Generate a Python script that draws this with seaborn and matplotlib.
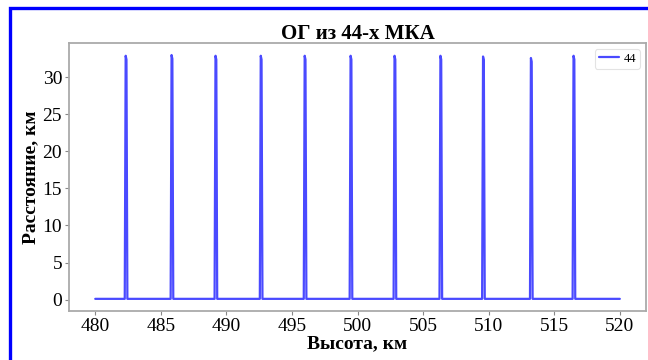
import matplotlib
matplotlib.use("Agg")
import matplotlib.pyplot as plt
from matplotlib.patches import Rectangle
import pandas as pd
import seaborn as sns

# Altitude samples (km) and corresponding distance (km) for the 44-satellite constellation
altitude = [480.0,
            482.25, 482.32, 482.38, 482.45,
            485.75, 485.82, 485.88, 485.95,
            489.10, 489.17, 489.23, 489.30,
            492.55, 492.62, 492.68, 492.75,
            495.90, 495.97, 496.03, 496.10,
            499.40, 499.47, 499.53, 499.60,
            502.75, 502.82, 502.88, 502.95,
            506.25, 506.32, 506.38, 506.45,
            509.50, 509.57, 509.63, 509.70,
            513.15, 513.22, 513.28, 513.35,
            516.40, 516.47, 516.53, 516.60,
            520.0]
distance = [0.1,
            0.1, 32.9, 32.4, 0.1,
            0.1, 33.0, 32.5, 0.1,
            0.1, 32.9, 32.4, 0.1,
            0.1, 32.9, 32.4, 0.1,
            0.1, 32.9, 32.4, 0.1,
            0.1, 32.9, 32.4, 0.1,
            0.1, 32.9, 32.4, 0.1,
            0.1, 32.9, 32.4, 0.1,
            0.1, 32.8, 32.3, 0.1,
            0.1, 32.6, 32.1, 0.1,
            0.1, 32.9, 32.4, 0.1,
            0.1]
series_name = "44"

x_ticks = [480, 485, 490, 495, 500, 505, 510, 515, 520]
y_ticks = [0, 5, 10, 15, 20, 25, 30]

sns.set_style("white")
plt.rcParams["font.family"] = ["Liberation Serif", "DejaVu Serif"]
plt.rcParams["text.color"] = "black"
plt.rcParams["axes.labelcolor"] = "black"
plt.rcParams["xtick.color"] = "black"
plt.rcParams["ytick.color"] = "black"

df = pd.DataFrame({"Высота": altitude, "Расстояние": distance, "label": series_name})

fig = plt.figure(figsize=(6.48, 3.6), dpi=100)
ax = fig.add_axes([0.1065, 0.136, 0.8905, 0.745])

sns.lineplot(data=df, x="Высота", y="Расстояние", hue="label",
             palette=["#2a2aff"], sort=False, estimator=None,
             linewidth=1.6, alpha=0.85, ax=ax)

ax.set_xticks(x_ticks)
ax.set_yticks(y_ticks)
ax.tick_params(axis="both", labelsize=14, length=3, width=0.8, color="#888888",
               labelcolor="black", pad=2, direction="out", bottom=True, left=True)
for s in ax.spines.values():
    s.set_color("#aaaaaa")
    s.set_linewidth(1.3)

ax.set_title("ОГ из 44-х МКА", fontsize=15, fontweight="bold", pad=3, color="black")
ax.set_xlabel("Высота, км", fontsize=14, fontweight="bold", labelpad=0, color="black")
ax.set_ylabel("Расстояние, км", fontsize=14, fontweight="bold", labelpad=2, color="black")

leg = ax.legend(loc="upper right", fontsize=9, frameon=True, handlelength=1.6,
                borderpad=0.3, handletextpad=0.4, fancybox=True)
leg.get_frame().set_edgecolor("#dddddd")
leg.get_frame().set_linewidth(0.8)
for t in leg.get_texts():
    t.set_color("black")

# Outer blue frame around the figure
fig.patches.append(Rectangle((0.0155, -0.2), 1.3, 0.2 + 0.979,
                             transform=fig.transFigure, fill=False,
                             edgecolor="#0000ff", linewidth=2.4, zorder=10))

fig.savefig("out.png", dpi=100)
